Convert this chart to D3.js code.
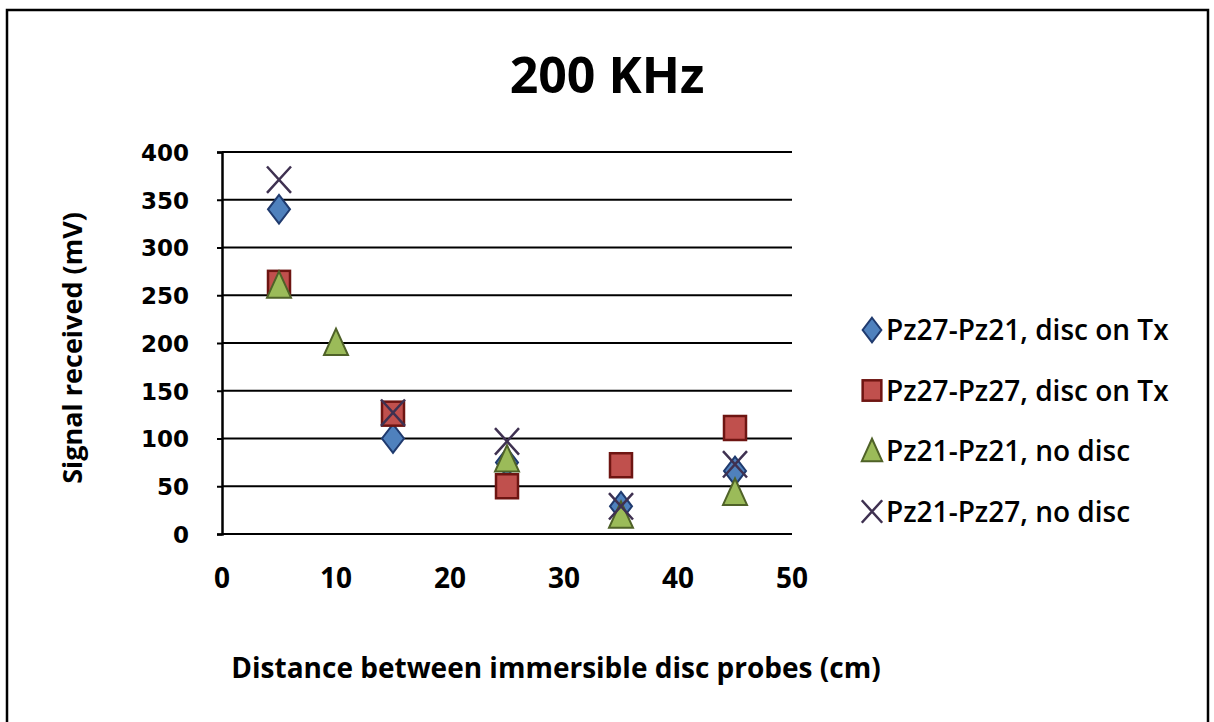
<!DOCTYPE html>
<html>
<head>
<meta charset="utf-8">
<script src="https://cdn.jsdelivr.net/npm/d3@7"></script>
<style>
  body { margin: 0; background: #fff; }
  text { font-family: "Open Sans", sans-serif; font-weight: bold; fill: #000; }
</style>
</head>
<body>
<svg id="chart" width="1214" height="722"></svg>
<script>
// --- DATOS ---
const distancias = [5, 15, 25, 35, 45];
const pz27pz21 = [340, 100, 75, 29, 66];
const pz27pz27 = [263, 126, 50, 72, 111];
const distanciasPz21 = [5, 10, 25, 35, 45];
const pz21pz21 = [260, 200, 78, 19, 43];
const pz21pz27 = [371, 127, 97, 29, 73];

const nombresSeries = ["Pz27-Pz21, disc on Tx", "Pz27-Pz27, disc on Tx", "Pz21-Pz21, no disc", "Pz21-Pz27, no disc"];
const xTicks = [0, 10, 20, 30, 40, 50];
const yTicks = [0, 50, 100, 150, 200, 250, 300, 350, 400];

const series = [
  { nombre: nombresSeries[0], forma: "diamond", xs: distancias, ys: pz27pz21 },
  { nombre: nombresSeries[1], forma: "square", xs: distancias, ys: pz27pz27 },
  { nombre: nombresSeries[2], forma: "triangle", xs: distanciasPz21, ys: pz21pz21 },
  { nombre: nombresSeries[3], forma: "cross", xs: distancias, ys: pz21pz27 }
];

const estilos = {
  diamond: { fill: "#4F81BD", stroke: "#1F3A6E" },
  square: { fill: "#C0504D", stroke: "#6E1512" },
  triangle: { fill: "#9BBB59", stroke: "#4F6228" },
  cross: { fill: "none", stroke: "#3F3151" }
};

const svg = d3.select("#chart");

// marco exterior
svg.append("path")
  .attr("d", "M7,730 L7,10 L1208,10 L1208,730")
  .attr("fill", "none")
  .attr("stroke", "#000")
  .attr("stroke-width", 2.5);

const x = d3.scaleLinear().domain([0, 50]).range([222, 792]);
const y = d3.scaleLinear().domain([0, 400]).range([534, 152]);

// titulo
svg.append("text")
  .attr("x", 607).attr("y", 93)
  .attr("text-anchor", "middle")
  .style("font-size", "50px")
  .text("200 KHz");

// lineas de cuadricula
svg.append("g")
  .selectAll("line")
  .data(yTicks)
  .enter().append("line")
  .attr("x1", x(0)).attr("x2", x(50))
  .attr("y1", d => y(d)).attr("y2", d => y(d))
  .attr("stroke", "#000")
  .attr("stroke-width", 2.2);

// eje Y
const ejeY = svg.append("g")
  .attr("transform", `translate(${x(0)},0)`)
  .call(d3.axisLeft(y).tickValues(yTicks).tickSize(5).tickPadding(28));
ejeY.select(".domain").attr("stroke-width", 2.5);
ejeY.selectAll(".tick line").attr("stroke-width", 2);
ejeY.selectAll("text")
  .style("font-family", "'DejaVu Sans', sans-serif")
  .style("font-size", "23px")
  .attr("dy", "0.36em");

// eje X (solo etiquetas)
svg.append("g")
  .selectAll("text")
  .data(xTicks)
  .enter().append("text")
  .attr("x", d => x(d))
  .attr("y", 588)
  .attr("text-anchor", "middle")
  .style("font-size", "28px")
  .text(d => d);

// titulos de ejes
svg.append("text")
  .attr("x", 556).attr("y", 678)
  .attr("text-anchor", "middle")
  .style("font-size", "28px")
  .text("Distance  between immersible disc probes (cm)");

svg.append("text")
  .attr("transform", "translate(82,348) rotate(-90)")
  .attr("text-anchor", "middle")
  .style("font-size", "27px")
  .text("Signal received (mV)");

// --- MARCADORES ---
function dibujarMarcador(g, forma, cx, cy, s) {
  const e = estilos[forma];
  if (forma === "diamond") {
    g.append("path")
      .attr("d", `M${cx},${cy - s * 0.72} L${cx + s * 0.55},${cy} L${cx},${cy + s * 0.72} L${cx - s * 0.55},${cy} Z`)
      .attr("fill", e.fill).attr("stroke", e.stroke).attr("stroke-width", 2);
  } else if (forma === "square") {
    g.append("rect")
      .attr("x", cx - s * 0.55).attr("y", cy - s * 0.6)
      .attr("width", s * 1.1).attr("height", s * 1.2)
      .attr("fill", e.fill).attr("stroke", e.stroke).attr("stroke-width", 2.5);
  } else if (forma === "triangle") {
    g.append("path")
      .attr("d", `M${cx},${cy - s * 0.72} L${cx + s * 0.6},${cy + s * 0.6} L${cx - s * 0.6},${cy + s * 0.6} Z`)
      .attr("fill", e.fill).attr("stroke", e.stroke).attr("stroke-width", 2);
  } else {
    const w = s * 0.6, h = s * 0.66;
    g.append("path")
      .attr("d", `M${cx - w},${cy - h} L${cx + w},${cy + h} M${cx + w},${cy - h} L${cx - w},${cy + h}`)
      .attr("fill", "none").attr("stroke", e.stroke).attr("stroke-width", 2.5);
  }
}

const puntos = svg.append("g");
series.forEach(sr => {
  sr.xs.forEach((xv, i) => {
    dibujarMarcador(puntos, sr.forma, x(xv), y(sr.ys[i]), 20);
  });
});

// --- LEYENDA ---
const leyenda = svg.append("g");
series.forEach((sr, i) => {
  const ly = 330 + i * 60.5;
  dibujarMarcador(leyenda, sr.forma, 872, ly, 17);
  leyenda.append("text")
    .attr("x", 886).attr("y", ly)
    .attr("dy", "0.36em")
    .style("font-size", "28px")
    .style("font-weight", "600")
    .text(sr.nombre);
});
</script>
</body>
</html>
